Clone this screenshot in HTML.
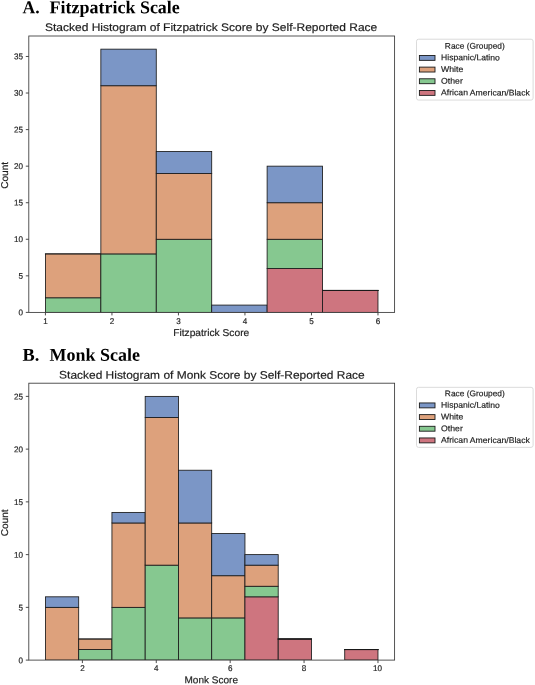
<!DOCTYPE html>
<html><head><meta charset="utf-8"><title>Figure</title>
<style>
html,body{margin:0;padding:0;background:#fff;}
body{width:535px;height:685px;overflow:hidden;font-family:"Liberation Sans",sans-serif;}
svg{display:block;will-change:transform;}
</style></head><body>
<svg width="535" height="685" viewBox="0 0 535 685">
<rect width="535" height="685" fill="#fff"/>
<g font-family="Liberation Serif, serif" font-weight="bold" font-size="18" fill="#000">
<text transform="translate(22.5,13.2) rotate(0.03)" textLength="17.2" lengthAdjust="spacingAndGlyphs">A.</text>
<text transform="translate(49.6,13.2) rotate(0.03)" textLength="130.2" lengthAdjust="spacingAndGlyphs">Fitzpatrick Scale</text>
<text transform="translate(22.5,360.8) rotate(0.03)" textLength="16.8" lengthAdjust="spacingAndGlyphs">B.</text>
<text transform="translate(49.5,360.8) rotate(0.03)" textLength="90.4" lengthAdjust="spacingAndGlyphs">Monk Scale</text>
</g>
<g font-family="Liberation Sans, sans-serif" stroke="#222" stroke-width="0.18">
<clipPath id="c36"><rect x="28.8" y="36" width="365.8" height="276.4"/></clipPath>
<g clip-path="url(#c36)">
<rect x="45.43" y="297.78" width="55.42" height="14.62" fill="#86c890" stroke="#1a1a1a" stroke-width="0.85"/>
<rect x="45.43" y="253.9" width="55.42" height="43.87" fill="#dda17c" stroke="#1a1a1a" stroke-width="0.85"/>
<path d="M45.43 253.9H100.85" fill="none" stroke="#1a1a1a" stroke-width="0.85" stroke-linecap="square"/>
<rect x="100.85" y="253.9" width="55.42" height="58.5" fill="#86c890" stroke="#1a1a1a" stroke-width="0.85"/>
<rect x="100.85" y="85.72" width="55.42" height="168.18" fill="#dda17c" stroke="#1a1a1a" stroke-width="0.85"/>
<rect x="100.85" y="49.16" width="55.42" height="36.56" fill="#7b96c6" stroke="#1a1a1a" stroke-width="0.85"/>
<rect x="156.28" y="239.28" width="55.42" height="73.12" fill="#86c890" stroke="#1a1a1a" stroke-width="0.85"/>
<rect x="156.28" y="173.47" width="55.42" height="65.81" fill="#dda17c" stroke="#1a1a1a" stroke-width="0.85"/>
<rect x="156.28" y="151.53" width="55.42" height="21.94" fill="#7b96c6" stroke="#1a1a1a" stroke-width="0.85"/>
<rect x="211.7" y="305.09" width="55.42" height="7.31" fill="#7b96c6" stroke="#1a1a1a" stroke-width="0.85"/>
<rect x="267.12" y="268.53" width="55.42" height="43.87" fill="#ce757f" stroke="#1a1a1a" stroke-width="0.85"/>
<rect x="267.12" y="239.28" width="55.42" height="29.25" fill="#86c890" stroke="#1a1a1a" stroke-width="0.85"/>
<rect x="267.12" y="202.72" width="55.42" height="36.56" fill="#dda17c" stroke="#1a1a1a" stroke-width="0.85"/>
<rect x="267.12" y="166.16" width="55.42" height="36.56" fill="#7b96c6" stroke="#1a1a1a" stroke-width="0.85"/>
<rect x="322.55" y="290.46" width="55.42" height="21.94" fill="#ce757f" stroke="#1a1a1a" stroke-width="0.85"/>
<path d="M322.55 290.46H377.97" fill="none" stroke="#1a1a1a" stroke-width="0.85" stroke-linecap="square"/>
<path d="M322.55 290.46H377.97" fill="none" stroke="#1a1a1a" stroke-width="0.85" stroke-linecap="square"/>
<path d="M322.55 290.46H377.97" fill="none" stroke="#1a1a1a" stroke-width="0.85" stroke-linecap="square"/>
</g>
<rect x="28.8" y="36" width="365.8" height="276.4" fill="none" stroke="#383838" stroke-width="0.85"/>
<line x1="45.43" y1="312.4" x2="45.43" y2="315.4" stroke="#383838" stroke-width="0.9"/>
<text transform="translate(45.43,324.1) rotate(0.03)" text-anchor="middle" font-size="8.3" textLength="4.5" lengthAdjust="spacingAndGlyphs" fill="#222">1</text>
<line x1="111.94" y1="312.4" x2="111.94" y2="315.4" stroke="#383838" stroke-width="0.9"/>
<text transform="translate(111.94,324.1) rotate(0.03)" text-anchor="middle" font-size="8.3" textLength="4.5" lengthAdjust="spacingAndGlyphs" fill="#222">2</text>
<line x1="178.45" y1="312.4" x2="178.45" y2="315.4" stroke="#383838" stroke-width="0.9"/>
<text transform="translate(178.45,324.1) rotate(0.03)" text-anchor="middle" font-size="8.3" textLength="4.5" lengthAdjust="spacingAndGlyphs" fill="#222">3</text>
<line x1="244.95" y1="312.4" x2="244.95" y2="315.4" stroke="#383838" stroke-width="0.9"/>
<text transform="translate(244.95,324.1) rotate(0.03)" text-anchor="middle" font-size="8.3" textLength="4.5" lengthAdjust="spacingAndGlyphs" fill="#222">4</text>
<line x1="311.46" y1="312.4" x2="311.46" y2="315.4" stroke="#383838" stroke-width="0.9"/>
<text transform="translate(311.46,324.1) rotate(0.03)" text-anchor="middle" font-size="8.3" textLength="4.5" lengthAdjust="spacingAndGlyphs" fill="#222">5</text>
<line x1="377.97" y1="312.4" x2="377.97" y2="315.4" stroke="#383838" stroke-width="0.9"/>
<text transform="translate(377.97,324.1) rotate(0.03)" text-anchor="middle" font-size="8.3" textLength="4.5" lengthAdjust="spacingAndGlyphs" fill="#222">6</text>
<line x1="25.8" y1="312.4" x2="28.8" y2="312.4" stroke="#383838" stroke-width="0.9"/>
<text transform="translate(23.1,315.2) rotate(0.03)" text-anchor="end" font-size="8.3" textLength="4.5" lengthAdjust="spacingAndGlyphs" fill="#222">0</text>
<line x1="25.8" y1="275.84" x2="28.8" y2="275.84" stroke="#383838" stroke-width="0.9"/>
<text transform="translate(23.1,278.64) rotate(0.03)" text-anchor="end" font-size="8.3" textLength="4.5" lengthAdjust="spacingAndGlyphs" fill="#222">5</text>
<line x1="25.8" y1="239.28" x2="28.8" y2="239.28" stroke="#383838" stroke-width="0.9"/>
<text transform="translate(23.1,242.08) rotate(0.03)" text-anchor="end" font-size="8.3" textLength="9" lengthAdjust="spacingAndGlyphs" fill="#222">10</text>
<line x1="25.8" y1="202.72" x2="28.8" y2="202.72" stroke="#383838" stroke-width="0.9"/>
<text transform="translate(23.1,205.52) rotate(0.03)" text-anchor="end" font-size="8.3" textLength="9" lengthAdjust="spacingAndGlyphs" fill="#222">15</text>
<line x1="25.8" y1="166.16" x2="28.8" y2="166.16" stroke="#383838" stroke-width="0.9"/>
<text transform="translate(23.1,168.96) rotate(0.03)" text-anchor="end" font-size="8.3" textLength="9" lengthAdjust="spacingAndGlyphs" fill="#222">20</text>
<line x1="25.8" y1="129.6" x2="28.8" y2="129.6" stroke="#383838" stroke-width="0.9"/>
<text transform="translate(23.1,132.4) rotate(0.03)" text-anchor="end" font-size="8.3" textLength="9" lengthAdjust="spacingAndGlyphs" fill="#222">25</text>
<line x1="25.8" y1="93.03" x2="28.8" y2="93.03" stroke="#383838" stroke-width="0.9"/>
<text transform="translate(23.1,95.83) rotate(0.03)" text-anchor="end" font-size="8.3" textLength="9" lengthAdjust="spacingAndGlyphs" fill="#222">30</text>
<line x1="25.8" y1="56.47" x2="28.8" y2="56.47" stroke="#383838" stroke-width="0.9"/>
<text transform="translate(23.1,59.27) rotate(0.03)" text-anchor="end" font-size="8.3" textLength="9" lengthAdjust="spacingAndGlyphs" fill="#222">35</text>
<text transform="translate(211.1,31) rotate(0.03)" text-anchor="middle" font-size="11.0" textLength="332.3" lengthAdjust="spacingAndGlyphs" fill="#1c1c1c">Stacked Histogram of Fitzpatrick Score by Self-Reported Race</text>
<text transform="translate(211.2,335.9) rotate(0.03)" text-anchor="middle" font-size="9.9" textLength="76" lengthAdjust="spacingAndGlyphs" fill="#1c1c1c">Fitzpatrick Score</text>
<text transform="translate(8,175.4) rotate(-89.97)" text-anchor="middle" font-size="9.9" textLength="26.9" lengthAdjust="spacingAndGlyphs" fill="#1c1c1c">Count</text>
<rect x="416.5" y="39.23" width="116.6" height="60.84" rx="2" ry="2" fill="#fff" stroke="#d2d2d2" stroke-width="0.8"/>
<text transform="translate(474.8,48.65) rotate(0.03)" text-anchor="middle" font-size="8.3" textLength="59.9" lengthAdjust="spacingAndGlyphs" fill="#1c1c1c">Race (Grouped)</text>
<rect x="419.4" y="55.45" width="15.6" height="4.9" fill="#7b96c6" stroke="#1a1a1a" stroke-width="0.9"/>
<text transform="translate(441.1,60.35) rotate(0.03)" font-size="8.3" textLength="58.7" lengthAdjust="spacingAndGlyphs" fill="#1c1c1c">Hispanic/Latino</text>
<rect x="419.4" y="67.12" width="15.6" height="4.9" fill="#dda17c" stroke="#1a1a1a" stroke-width="0.9"/>
<text transform="translate(441.1,72.02) rotate(0.03)" font-size="8.3" textLength="22.2" lengthAdjust="spacingAndGlyphs" fill="#1c1c1c">White</text>
<rect x="419.4" y="78.79" width="15.6" height="4.9" fill="#86c890" stroke="#1a1a1a" stroke-width="0.9"/>
<text transform="translate(441.1,83.69) rotate(0.03)" font-size="8.3" textLength="21.7" lengthAdjust="spacingAndGlyphs" fill="#1c1c1c">Other</text>
<rect x="419.4" y="90.46" width="15.6" height="4.9" fill="#ce757f" stroke="#1a1a1a" stroke-width="0.9"/>
<text transform="translate(441.1,95.36) rotate(0.03)" font-size="8.3" textLength="88.7" lengthAdjust="spacingAndGlyphs" fill="#1c1c1c">African American/Black</text>
<clipPath id="c383"><rect x="28.8" y="383.2" width="365.8" height="276.9"/></clipPath>
<g clip-path="url(#c383)">
<rect x="45.43" y="607.36" width="33.25" height="52.74" fill="#dda17c" stroke="#1a1a1a" stroke-width="0.85"/>
<rect x="45.43" y="596.81" width="33.25" height="10.55" fill="#7b96c6" stroke="#1a1a1a" stroke-width="0.85"/>
<rect x="78.68" y="649.55" width="33.25" height="10.55" fill="#86c890" stroke="#1a1a1a" stroke-width="0.85"/>
<rect x="78.68" y="639" width="33.25" height="10.55" fill="#dda17c" stroke="#1a1a1a" stroke-width="0.85"/>
<path d="M78.68 639H111.94" fill="none" stroke="#1a1a1a" stroke-width="0.85" stroke-linecap="square"/>
<rect x="111.94" y="607.36" width="33.25" height="52.74" fill="#86c890" stroke="#1a1a1a" stroke-width="0.85"/>
<rect x="111.94" y="522.97" width="33.25" height="84.39" fill="#dda17c" stroke="#1a1a1a" stroke-width="0.85"/>
<rect x="111.94" y="512.42" width="33.25" height="10.55" fill="#7b96c6" stroke="#1a1a1a" stroke-width="0.85"/>
<rect x="145.19" y="565.16" width="33.25" height="94.94" fill="#86c890" stroke="#1a1a1a" stroke-width="0.85"/>
<rect x="145.19" y="417.48" width="33.25" height="147.68" fill="#dda17c" stroke="#1a1a1a" stroke-width="0.85"/>
<rect x="145.19" y="396.39" width="33.25" height="21.1" fill="#7b96c6" stroke="#1a1a1a" stroke-width="0.85"/>
<rect x="178.45" y="617.91" width="33.25" height="42.19" fill="#86c890" stroke="#1a1a1a" stroke-width="0.85"/>
<rect x="178.45" y="522.97" width="33.25" height="94.94" fill="#dda17c" stroke="#1a1a1a" stroke-width="0.85"/>
<rect x="178.45" y="470.23" width="33.25" height="52.74" fill="#7b96c6" stroke="#1a1a1a" stroke-width="0.85"/>
<rect x="211.7" y="617.91" width="33.25" height="42.19" fill="#86c890" stroke="#1a1a1a" stroke-width="0.85"/>
<rect x="211.7" y="575.71" width="33.25" height="42.19" fill="#dda17c" stroke="#1a1a1a" stroke-width="0.85"/>
<rect x="211.7" y="533.52" width="33.25" height="42.19" fill="#7b96c6" stroke="#1a1a1a" stroke-width="0.85"/>
<rect x="244.95" y="596.81" width="33.25" height="63.29" fill="#ce757f" stroke="#1a1a1a" stroke-width="0.85"/>
<rect x="244.95" y="586.26" width="33.25" height="10.55" fill="#86c890" stroke="#1a1a1a" stroke-width="0.85"/>
<rect x="244.95" y="565.16" width="33.25" height="21.1" fill="#dda17c" stroke="#1a1a1a" stroke-width="0.85"/>
<rect x="244.95" y="554.61" width="33.25" height="10.55" fill="#7b96c6" stroke="#1a1a1a" stroke-width="0.85"/>
<rect x="278.21" y="639" width="33.25" height="21.1" fill="#ce757f" stroke="#1a1a1a" stroke-width="0.85"/>
<path d="M278.21 639H311.46" fill="none" stroke="#1a1a1a" stroke-width="0.85" stroke-linecap="square"/>
<path d="M278.21 639H311.46" fill="none" stroke="#1a1a1a" stroke-width="0.85" stroke-linecap="square"/>
<path d="M278.21 639H311.46" fill="none" stroke="#1a1a1a" stroke-width="0.85" stroke-linecap="square"/>
<rect x="344.72" y="649.55" width="33.25" height="10.55" fill="#ce757f" stroke="#1a1a1a" stroke-width="0.85"/>
<path d="M344.72 649.55H377.97" fill="none" stroke="#1a1a1a" stroke-width="0.85" stroke-linecap="square"/>
<path d="M344.72 649.55H377.97" fill="none" stroke="#1a1a1a" stroke-width="0.85" stroke-linecap="square"/>
<path d="M344.72 649.55H377.97" fill="none" stroke="#1a1a1a" stroke-width="0.85" stroke-linecap="square"/>
</g>
<rect x="28.8" y="383.2" width="365.8" height="276.9" fill="none" stroke="#383838" stroke-width="0.85"/>
<line x1="82.38" y1="660.1" x2="82.38" y2="663.1" stroke="#383838" stroke-width="0.9"/>
<text transform="translate(82.38,671.1) rotate(0.03)" text-anchor="middle" font-size="8.3" textLength="4.5" lengthAdjust="spacingAndGlyphs" fill="#222">2</text>
<line x1="156.28" y1="660.1" x2="156.28" y2="663.1" stroke="#383838" stroke-width="0.9"/>
<text transform="translate(156.28,671.1) rotate(0.03)" text-anchor="middle" font-size="8.3" textLength="4.5" lengthAdjust="spacingAndGlyphs" fill="#222">4</text>
<line x1="230.17" y1="660.1" x2="230.17" y2="663.1" stroke="#383838" stroke-width="0.9"/>
<text transform="translate(230.17,671.1) rotate(0.03)" text-anchor="middle" font-size="8.3" textLength="4.5" lengthAdjust="spacingAndGlyphs" fill="#222">6</text>
<line x1="304.07" y1="660.1" x2="304.07" y2="663.1" stroke="#383838" stroke-width="0.9"/>
<text transform="translate(304.07,671.1) rotate(0.03)" text-anchor="middle" font-size="8.3" textLength="4.5" lengthAdjust="spacingAndGlyphs" fill="#222">8</text>
<line x1="377.97" y1="660.1" x2="377.97" y2="663.1" stroke="#383838" stroke-width="0.9"/>
<text transform="translate(377.57,671.1) rotate(0.03)" text-anchor="middle" font-size="8.3" textLength="9" lengthAdjust="spacingAndGlyphs" fill="#222">10</text>
<line x1="25.8" y1="660.1" x2="28.8" y2="660.1" stroke="#383838" stroke-width="0.9"/>
<text transform="translate(23.1,663.32) rotate(0.03)" text-anchor="end" font-size="8.3" textLength="4.5" lengthAdjust="spacingAndGlyphs" fill="#222">0</text>
<line x1="25.8" y1="607.36" x2="28.8" y2="607.36" stroke="#383838" stroke-width="0.9"/>
<text transform="translate(23.1,610.58) rotate(0.03)" text-anchor="end" font-size="8.3" textLength="4.5" lengthAdjust="spacingAndGlyphs" fill="#222">5</text>
<line x1="25.8" y1="554.61" x2="28.8" y2="554.61" stroke="#383838" stroke-width="0.9"/>
<text transform="translate(23.1,557.83) rotate(0.03)" text-anchor="end" font-size="8.3" textLength="9" lengthAdjust="spacingAndGlyphs" fill="#222">10</text>
<line x1="25.8" y1="501.87" x2="28.8" y2="501.87" stroke="#383838" stroke-width="0.9"/>
<text transform="translate(23.1,505.09) rotate(0.03)" text-anchor="end" font-size="8.3" textLength="9" lengthAdjust="spacingAndGlyphs" fill="#222">15</text>
<line x1="25.8" y1="449.13" x2="28.8" y2="449.13" stroke="#383838" stroke-width="0.9"/>
<text transform="translate(23.1,452.35) rotate(0.03)" text-anchor="end" font-size="8.3" textLength="9" lengthAdjust="spacingAndGlyphs" fill="#222">20</text>
<line x1="25.8" y1="396.39" x2="28.8" y2="396.39" stroke="#383838" stroke-width="0.9"/>
<text transform="translate(23.1,399.61) rotate(0.03)" text-anchor="end" font-size="8.3" textLength="9" lengthAdjust="spacingAndGlyphs" fill="#222">25</text>
<text transform="translate(211.9,378.7) rotate(0.03)" text-anchor="middle" font-size="11.0" textLength="305.6" lengthAdjust="spacingAndGlyphs" fill="#1c1c1c">Stacked Histogram of Monk Score by Self-Reported Race</text>
<text transform="translate(211.2,683.3) rotate(0.03)" text-anchor="middle" font-size="9.9" textLength="53.5" lengthAdjust="spacingAndGlyphs" fill="#1c1c1c">Monk Score</text>
<text transform="translate(8,522.85) rotate(-89.97)" text-anchor="middle" font-size="9.9" textLength="26.9" lengthAdjust="spacingAndGlyphs" fill="#1c1c1c">Count</text>
<rect x="416.5" y="387.33" width="116.6" height="60.02" rx="2" ry="2" fill="#fff" stroke="#d2d2d2" stroke-width="0.8"/>
<text transform="translate(474.8,396.25) rotate(0.03)" text-anchor="middle" font-size="8.3" textLength="59.9" lengthAdjust="spacingAndGlyphs" fill="#1c1c1c">Race (Grouped)</text>
<rect x="419.4" y="402.95" width="15.6" height="4.9" fill="#7b96c6" stroke="#1a1a1a" stroke-width="0.9"/>
<text transform="translate(441.1,407.85) rotate(0.03)" font-size="8.3" textLength="58.7" lengthAdjust="spacingAndGlyphs" fill="#1c1c1c">Hispanic/Latino</text>
<rect x="419.4" y="414.62" width="15.6" height="4.9" fill="#dda17c" stroke="#1a1a1a" stroke-width="0.9"/>
<text transform="translate(441.1,419.52) rotate(0.03)" font-size="8.3" textLength="22.2" lengthAdjust="spacingAndGlyphs" fill="#1c1c1c">White</text>
<rect x="419.4" y="426.29" width="15.6" height="4.9" fill="#86c890" stroke="#1a1a1a" stroke-width="0.9"/>
<text transform="translate(441.1,431.19) rotate(0.03)" font-size="8.3" textLength="21.7" lengthAdjust="spacingAndGlyphs" fill="#1c1c1c">Other</text>
<rect x="419.4" y="437.96" width="15.6" height="4.9" fill="#ce757f" stroke="#1a1a1a" stroke-width="0.9"/>
<text transform="translate(441.1,442.86) rotate(0.03)" font-size="8.3" textLength="88.7" lengthAdjust="spacingAndGlyphs" fill="#1c1c1c">African American/Black</text>
</g>
</svg>
</body></html>
